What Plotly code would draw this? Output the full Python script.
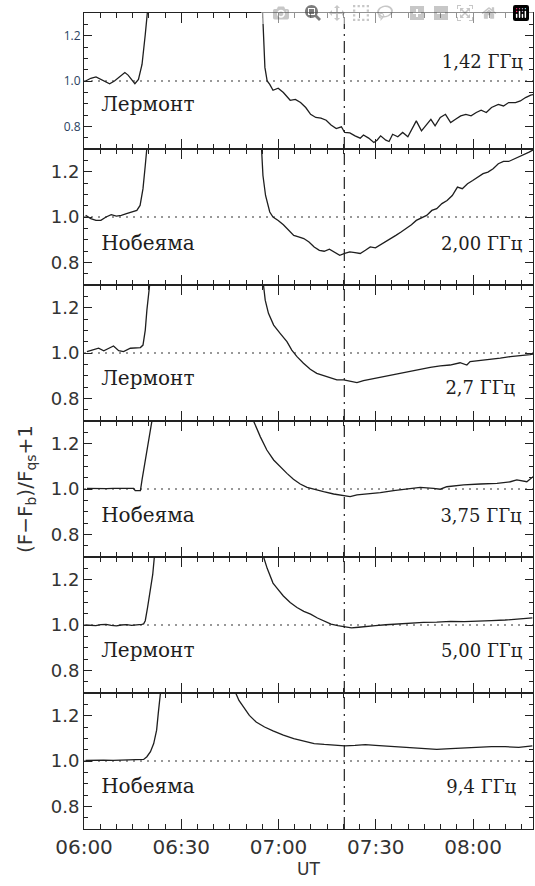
import plotly.graph_objects as go
from plotly.subplots import make_subplots

# ---- time axis (minutes after 06:00 UT) ----
X_RANGE = [0, 138.5]
Y_RANGE = [0.7, 1.3]
X_TICK_MIN = [0, 30, 60, 90, 120]
X_TICK_LABELS = ["06:00", "06:30", "07:00", "07:30", "08:00"]
Y_TICKS = [0.8, 1.0, 1.2]
REF_LEVEL = 1.0
MARK_TIME = 80.3  # 07:20 UT

STATIONS = ["Лермонт", "Нобеяма", "Лермонт", "Нобеяма", "Лермонт", "Нобеяма"]
FREQS = ["1,42 ГГц", "2,00 ГГц", "2,7 ГГц", "3,75 ГГц", "5,00 ГГц", "9,4 ГГц"]

t1a = [0.5, 2.1, 3.7, 5.2, 6.3, 7.9, 9.4, 11.0, 12.6, 13.6, 14.7, 15.7, 16.8, 17.9, 18.9, 19.6, 20.2]
v1a = [1.000, 1.012, 1.018, 1.007, 1.000, 0.988, 1.000, 1.018, 1.037, 1.026, 1.007, 0.988, 1.007, 1.073, 1.205, 1.300, 1.400]
t1b = [54.8, 55.3, 55.8, 56.5, 57.3, 58.3, 59.9, 61.5, 63.6, 65.2, 66.8, 68.4, 69.9, 71.5, 73.1, 74.7,
       76.2, 77.8, 79.4, 80.4, 82.0, 83.6, 85.2, 86.2, 87.8, 89.4, 90.4, 91.5, 93.1, 94.1, 95.2, 96.8,
       98.3, 99.9, 101.5, 102.5, 104.1, 105.7, 107.0, 108.3, 109.9, 111.5, 113.1, 114.6, 116.2, 117.8,
       119.4, 121.0, 122.5, 124.1, 125.7, 127.8, 129.4, 131.0, 133.1, 134.6, 136.2, 137.8, 139.2]
v1b = [1.400, 1.200, 1.060, 1.000, 0.985, 0.959, 0.968, 0.949, 0.915, 0.919, 0.905, 0.883, 0.853, 0.839, 0.836, 0.827,
       0.806, 0.790, 0.798, 0.773, 0.771, 0.758, 0.748, 0.762, 0.748, 0.729, 0.739, 0.758, 0.739, 0.733, 0.765, 0.754,
       0.773, 0.754, 0.795, 0.824, 0.780, 0.809, 0.831, 0.802, 0.839, 0.853, 0.817, 0.831, 0.846, 0.853,
       0.846, 0.861, 0.871, 0.861, 0.883, 0.897, 0.890, 0.905, 0.905, 0.912, 0.927, 0.938, 0.941]

t2a = [0.5, 2.1, 3.7, 5.2, 6.8, 8.4, 10.0, 11.5, 13.1, 14.7, 16.3, 17.3, 18.2, 18.9, 19.6, 20.0]
v2a = [1.007, 0.993, 0.985, 0.985, 1.000, 1.010, 1.004, 1.007, 1.015, 1.022, 1.029, 1.051, 1.125, 1.227, 1.300, 1.400]
t2b = [54.4, 54.7, 55.2, 56.0, 57.3, 58.3, 59.9, 61.5, 63.1, 64.7, 66.2, 67.8, 69.4, 71.0, 72.6, 74.1,
       75.7, 77.3, 78.9, 80.4, 82.0, 83.6, 85.2, 86.8, 88.3, 89.9, 91.5, 93.1, 94.6, 96.2, 97.8, 99.4,
       101.0, 102.5, 104.1, 105.7, 107.3, 108.8, 110.4, 112.0, 113.6, 115.2, 116.7, 118.3, 119.9, 121.5,
       123.1, 124.6, 126.2, 127.8, 129.4, 131.0, 132.5, 134.1, 135.7, 137.3, 139.2]
v2b = [1.400, 1.293, 1.183, 1.095, 1.022, 1.000, 0.985, 0.966, 0.941, 0.919, 0.912, 0.905, 0.890, 0.868, 0.853, 0.849,
       0.858, 0.846, 0.831, 0.839, 0.846, 0.843, 0.839, 0.853, 0.868, 0.864, 0.878, 0.890, 0.902, 0.919, 0.934, 0.949,
       0.966, 0.985, 0.996, 1.007, 1.029, 1.037, 1.059, 1.073, 1.095, 1.132, 1.125, 1.147, 1.161, 1.176,
       1.191, 1.198, 1.213, 1.235, 1.245, 1.245, 1.254, 1.264, 1.274, 1.286, 1.301]

t3a = [0.9, 3.0, 4.5, 6.1, 7.6, 9.1, 10.7, 12.2, 14.3, 15.8, 17.4, 18.2, 18.9, 19.4, 19.9, 20.4]
v3a = [1.006, 1.013, 1.021, 1.010, 1.021, 1.031, 1.010, 1.006, 1.021, 1.021, 1.024, 1.035, 1.101, 1.189, 1.278, 1.320]
t3b = [55.2, 55.9, 56.9, 58.5, 60.5, 62.6, 64.1, 65.7, 67.7, 69.8, 71.8, 73.9, 75.9, 78.0, 80.1, 82.1,
       84.2, 86.2, 88.3, 91.4, 94.4, 97.5, 100.6, 103.7, 106.8, 109.9, 112.9, 116.0, 118.1, 119.1,
       122.2, 125.3, 128.4, 131.5, 134.5, 137.6, 139.2]
v3b = [1.320, 1.233, 1.175, 1.123, 1.087, 1.050, 1.013, 0.984, 0.955, 0.928, 0.910, 0.899, 0.889, 0.881, 0.881, 0.874,
       0.869, 0.878, 0.884, 0.893, 0.903, 0.910, 0.922, 0.928, 0.937, 0.943, 0.947, 0.957, 0.947, 0.962,
       0.966, 0.972, 0.977, 0.984, 0.987, 0.993, 0.996]

t4a = [0.9, 3.0, 5.0, 7.0, 9.0, 11.0, 13.0, 15.3, 15.8, 17.4, 17.9, 18.9, 19.9, 21.0, 21.3]
v4a = [1.003, 1.002, 1.004, 1.002, 1.003, 1.002, 1.004, 1.003, 0.993, 0.993, 1.040, 1.128, 1.216, 1.304, 1.330]
t4b = [52.0, 52.3, 54.4, 56.4, 58.5, 60.5, 62.6, 64.6, 66.7, 68.8, 70.8, 73.9, 77.0, 80.1, 82.1, 84.2,
       87.3, 91.4, 95.5, 99.6, 103.7, 107.8, 109.9, 111.9, 117.1, 122.2, 127.4, 131.5, 133.5, 136.6, 139.2]
v4b = [1.330, 1.300, 1.230, 1.172, 1.128, 1.098, 1.069, 1.043, 1.022, 1.007, 0.999, 0.988, 0.978, 0.969, 0.966, 0.974,
       0.978, 0.984, 0.993, 0.999, 1.007, 1.003, 0.999, 1.010, 1.018, 1.022, 1.025, 1.032, 1.040, 1.032, 1.062]

t5a = [0.5, 2.0, 3.65, 5.2, 6.8, 8.4, 10.0, 11.5, 13.1, 14.7, 16.3, 17.8, 18.4, 18.9, 19.6, 20.5, 21.2, 21.7, 22.0]
v5a = [1.000, 0.998, 0.997, 1.002, 1.003, 0.998, 0.996, 1.000, 1.002, 0.998, 0.999, 1.003, 1.005, 1.019, 1.077, 1.150, 1.223, 1.300, 1.340]
t5b = [55.0, 55.4, 56.5, 57.5, 58.3, 59.4, 61.5, 63.6, 65.7, 67.8, 69.9, 72.0, 74.1, 76.2, 78.3, 80.4,
       82.5, 84.7, 86.8, 89.9, 93.1, 96.2, 100.4, 104.7, 108.8, 113.1, 117.3, 121.5, 125.7, 129.9, 134.1, 138.3]
v5b = [1.340, 1.300, 1.250, 1.210, 1.185, 1.165, 1.128, 1.099, 1.077, 1.060, 1.048, 1.031, 1.016, 1.004, 0.997, 0.993,
       0.987, 0.990, 0.994, 0.997, 1.001, 1.004, 1.009, 1.012, 1.013, 1.016, 1.015, 1.016, 1.019, 1.022, 1.026, 1.031]

t6a = [0.5, 3.0, 6.0, 9.0, 12.0, 15.0, 17.3, 18.4, 19.4, 20.5, 21.5, 22.4, 22.9, 23.3, 23.6, 23.8]
v6a = [1.003, 1.002, 1.004, 1.003, 1.004, 1.005, 1.006, 1.007, 1.019, 1.041, 1.077, 1.136, 1.209, 1.267, 1.296, 1.330]
t6b = [46.5, 46.8, 47.8, 49.4, 51.0, 53.1, 55.7, 58.3, 61.5, 64.7, 67.8, 71.0, 74.1, 77.3, 80.4, 83.6,
       86.8, 89.9, 93.1, 96.2, 100.4, 104.7, 108.8, 113.1, 117.3, 121.5, 125.7, 129.9, 134.1, 138.3]
v6b = [1.330, 1.300, 1.267, 1.231, 1.201, 1.172, 1.150, 1.133, 1.114, 1.099, 1.088, 1.077, 1.073, 1.069, 1.067, 1.069,
       1.072, 1.069, 1.066, 1.063, 1.060, 1.055, 1.051, 1.055, 1.058, 1.060, 1.063, 1.063, 1.060, 1.067]

SERIES = [((t1a, v1a), (t1b, v1b)), ((t2a, v2a), (t2b, v2b)), ((t3a, v3a), (t3b, v3b)),
          ((t4a, v4a), (t4b, v4b)), ((t5a, v5a), (t5b, v5b)), ((t6a, v6a), (t6b, v6b))]

STATION_Y = [0.89, 0.875, 0.88, 0.875, 0.88, 0.88]
FREQ_Y = [1.078, 0.875, 0.837, 0.875, 0.88, 0.88]
FREQ_X = [135.4, 135.2, 133.0, 135.0, 135.2, 133.3]
STATION_X = 5.3

INK = "#1e1e1e"
fig = make_subplots(rows=6, cols=1, shared_xaxes=True, vertical_spacing=0)

for i, segs in enumerate(SERIES):
    r = i + 1
    fig.add_trace(go.Scatter(x=X_RANGE, y=[REF_LEVEL, REF_LEVEL], mode="lines",
                             line=dict(color="#333", width=1.1, dash="2px,5px")), row=r, col=1)
    fig.add_trace(go.Scatter(x=[MARK_TIME, MARK_TIME], y=Y_RANGE, mode="lines",
                             line=dict(color="#222", width=1.2, dash="12px,5px,2px,5px")), row=r, col=1)
    for (t, v) in segs:
        fig.add_trace(go.Scatter(x=t, y=v, mode="lines",
                                 line=dict(color=INK, width=1.3)), row=r, col=1)
    fig.add_trace(go.Scatter(x=[STATION_X], y=[STATION_Y[i]], mode="text", text=[STATIONS[i]],
                             textposition="middle right", cliponaxis=False,
                             textfont=dict(family="DejaVu Serif", size=20, color=INK)), row=r, col=1)
    fig.add_trace(go.Scatter(x=[FREQ_X[i]], y=[FREQ_Y[i]], mode="text", text=[FREQS[i]],
                             textposition="middle left", cliponaxis=False,
                             textfont=dict(family="DejaVu Serif", size=18, color=INK)), row=r, col=1)

# base axis settings (known to draw ticks)
fig.update_xaxes(range=X_RANGE, ticks="inside", ticklen=10, tickcolor="#222", mirror="ticks",
                 showline=True, linecolor="#222", dtick=X_TICK_MIN[1] - X_TICK_MIN[0],
                 minor=dict(ticks="inside", ticklen=5, tickcolor="#222", dtick=5))
fig.update_yaxes(range=Y_RANGE, ticks="inside", ticklen=8, tickcolor="#222", mirror="ticks",
                 showline=True, linecolor="#222", dtick=round(Y_TICKS[1] - Y_TICKS[0], 3),
                 tickformat=".1f",
                 minor=dict(ticks="inside", ticklen=4, tickcolor="#222", dtick=0.05))

x_alias = {str(m): lab for m, lab in zip(X_TICK_MIN, X_TICK_LABELS)}
yfont = dict(family="DejaVu Sans", size=18, color="#333")
xfont = dict(family="DejaVu Sans", size=20, color="#333")
# per-panel additions
fig.update_yaxes(tickfont=yfont, row=2, col=1)
fig.update_yaxes(tickfont=yfont, automargin=False, row=3, col=1)
fig.update_yaxes(tickfont=yfont, row=4, col=1)
fig.update_yaxes(tickfont=yfont, row=5, col=1)
fig.update_yaxes(tickfont=yfont, row=6, col=1)
fig.update_xaxes(labelalias=x_alias, row=2, col=1)
fig.update_xaxes(tickfont=xfont, row=3, col=1)
fig.update_xaxes(automargin=False, row=4, col=1)
fig.update_xaxes(labelalias=x_alias, tickfont=xfont, row=6, col=1)

fig.update_yaxes(title=dict(text="(F−F<sub>b</sub>)/F<sub>qs</sub>+1", standoff=12,
                            font=dict(family="DejaVu Sans", size=20, color="#333")), row=4, col=1)
fig.update_xaxes(title=dict(text="UT", standoff=4,
                            font=dict(family="DejaVu Sans", size=17, color="#333")), row=6, col=1)

fig.update_layout(width=535, height=886, margin=dict(l=84, r=2, t=13, b=57),
                  plot_bgcolor="white", paper_bgcolor="white", showlegend=False)

fig.write_html("out.html", post_script="document.body.style.margin='0px';")
